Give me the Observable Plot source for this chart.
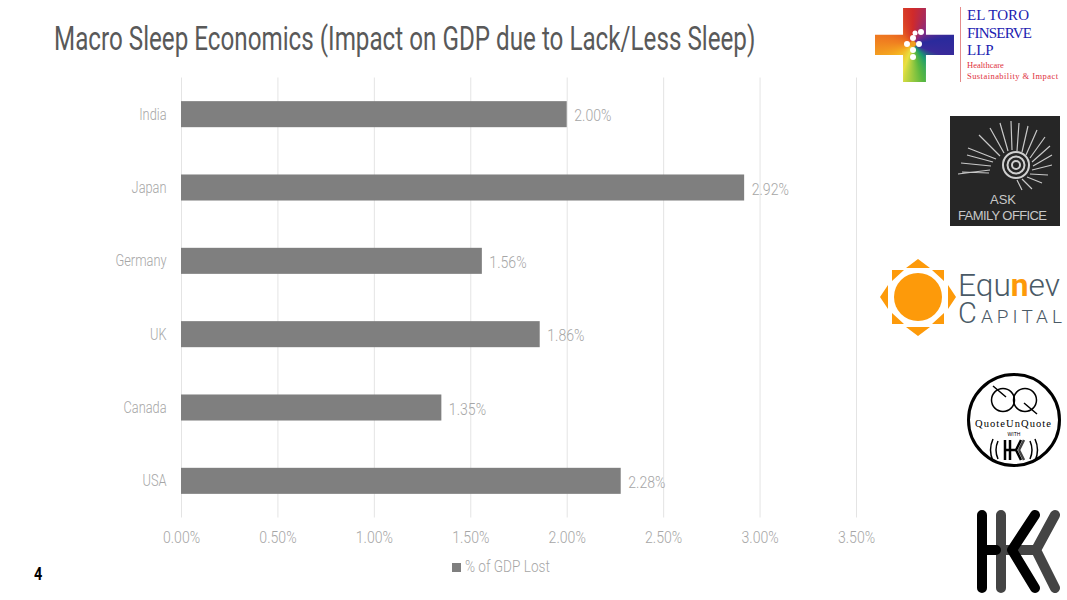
<!DOCTYPE html>
<html><head><meta charset="utf-8">
<script src="https://cdn.jsdelivr.net/npm/d3@7"></script>
<script src="https://cdn.jsdelivr.net/npm/@observablehq/plot@0.6"></script>
<style>
html,body{margin:0;padding:0;background:#fff}
#page{position:relative;width:1067px;height:600px;overflow:hidden;font-family:"Roboto",sans-serif;font-weight:300}
#chart{position:absolute;left:0;top:0}
#chart svg{display:block}
#title{position:absolute;left:54px;top:17px;font-size:34px;line-height:42px;font-weight:400;color:#595959;white-space:nowrap;transform-origin:0 0;transform:scaleX(.712)}
#swatch{position:absolute;left:452px;top:563px;width:9px;height:9px;background:#7f7f7f}
#legend{position:absolute;left:465px;top:557px;font-size:16px;line-height:20px;color:#a6a6a6;white-space:nowrap;transform-origin:0 0;transform:scaleX(.85)}
#num{position:absolute;left:34px;top:564px;font-size:18px;line-height:20px;font-weight:bold;color:#000;transform-origin:0 0;transform:scaleX(.8)}
#cross{position:absolute;left:875px;top:8px;width:79px;height:74px;background:conic-gradient(from 0deg at 48% 49%,#d02a2a,#8a2a80 40deg,#2a2a9c 80deg,#3a2a9a 110deg,#1a9a70 140deg,#5ab840 165deg,#e8e040 200deg,#f5b020 240deg,#f08020 275deg,#e86020 310deg,#d02a2a);clip-path:polygon(35.5% 0,64.5% 0,64.5% 36%,100% 36%,100% 63.5%,64.5% 63.5%,64.5% 100%,35.5% 100%,35.5% 63.5%,0 63.5%,0 36%,35.5% 36%)}
#logos{position:absolute;left:0;top:0}
</style></head><body>
<div id="page">
<div id="chart"></div>
<div id="title">Macro Sleep Economics (Impact on GDP due to Lack/Less Sleep)</div>
<div id="swatch"></div>
<div id="legend">% of GDP Lost</div>
<div id="num">4</div>
<div id="cross"></div>
<svg id="logos" width="1067" height="600" viewBox="0 0 1067 600">
  <g fill="#fff"><circle cx="921" cy="32" r="3"/><circle cx="913" cy="38" r="3"/><circle cx="907" cy="44" r="3"/><circle cx="919" cy="44" r="3"/><circle cx="913" cy="50" r="3"/><circle cx="913" cy="57" r="3"/><circle cx="915" cy="33" r="2.5"/></g>
  <circle cx="913" cy="44" r="3" fill="#f0a020"/>
  <line x1="960.5" y1="7" x2="960.5" y2="82" stroke="#e58a8a" stroke-width="1"/>
  <g font-family="'Liberation Serif',serif" fill="#2020b0" font-size="15" font-weight="400">
    <text x="967" y="20" textLength="62">EL TORO</text><text x="967" y="38" textLength="65">FINSERVE</text><text x="967" y="55">LLP</text>
  </g>
  <g font-family="'Liberation Serif',serif" fill="#e03040" font-size="8.5" font-weight="400">
    <text x="967" y="68">Healthcare</text><text x="967" y="78.5" textLength="91">Sustainability &amp; Impact</text>
  </g>
  <rect x="950" y="116" width="110" height="110" fill="#262626"/>
  <g stroke="#c8c8c8" stroke-width="1.2" fill="none">
    <path d="M1012 150L1011 121M1017 151L1019 123M1022 152L1028 126M1026 155L1037 130M1030 158L1045 137M1032 162L1050 146M1033 166L1052 155M1032 170L1052 165M1030 174L1048 175M1027 177L1042 183M1022 179L1032 189M1017 180L1022 190M1008 151L1000 123M1004 153L990 128M1000 156L979 135M996 159L968 148M993 162L967 155M991 166L961 163M990 170L958 174M989 173L962 172"/>
  </g>
  <g fill="none" stroke="#d0d0d0"><circle cx="1016" cy="165" r="13" stroke-width="2"/><circle cx="1016" cy="165" r="8.5" stroke-width="2"/><circle cx="1016" cy="165" r="4" stroke-width="2"/></g>
  <text x="1003" y="204" text-anchor="middle" font-size="13" fill="#c8c8c8" font-family="'Liberation Sans',sans-serif" font-weight="400">ASK</text>
  <text x="958" y="220" font-size="13" fill="#c8c8c8" font-family="'Liberation Sans',sans-serif" font-weight="400" textLength="89">FAMILY OFFICE</text>
  <circle cx="918" cy="297" r="24" fill="#fd9a0a"/>
  <g fill="#fd9a0a">
    <path d="M918 259L906 268H930ZM918 336L906 327H930ZM880 297L888 285V309ZM956 297L948 285V309Z"/>
    <path d="M892 270H904L892 281ZM944 270H932L944 281ZM892 324H904L892 313ZM944 324H932L944 313Z"/>
  </g>
  <text x="958" y="296" font-family="Roboto,sans-serif" font-weight="300" font-size="31" fill="#4a5a66" textLength="102" lengthAdjust="spacingAndGlyphs">Equ<tspan fill="#fd9a0a" font-weight="700">n</tspan>ev</text>
  <text x="958" y="323" font-family="Roboto,sans-serif" font-weight="300" font-size="19" fill="#4a5a66" textLength="104"><tspan font-size="29">C</tspan>APITAL</text>
  <circle cx="1014" cy="420" r="45.5" fill="#fff" stroke="#000" stroke-width="3"/>
  <g fill="none" stroke="#000" stroke-width="1.5">
    <circle cx="1003" cy="400" r="11.5"/><circle cx="1025" cy="400" r="11.5"/>
    <path d="M993 386L1006 397M1024 403L1037 414"/>
    <path d="M998 441Q994 450 998 459M993 439Q988 450 993 461M1030 441Q1034 450 1030 459M1035 439Q1040 450 1035 461"/>
  </g>
  <text x="975" y="427" textLength="76" font-family="'Liberation Serif',serif" font-size="10.5" font-weight="400" fill="#000">QuoteUnQuote</text>
  <text x="1014" y="436" text-anchor="middle" font-family="'Liberation Sans',sans-serif" font-size="5" font-weight="400" fill="#000">WITH</text>
  <g stroke-width="2.5" stroke="#000" fill="none"><path d="M1005 440V460M1010 440V460M1005 450H1016M1016 450L1021 440M1016 450L1021 460"/><path stroke="#444" d="M1019 450L1024 440M1019 450L1024 460"/></g>
  <g fill="none" stroke-linecap="round" stroke-width="10">
    <path stroke="#444" d="M1001 515V588M1001 550H1036M1036 550L1055 515M1036 550L1055 588"/>
    <path stroke="#000" d="M982 515V588M982 550H996M1012 550L1035 515M1012 550L1035 588"/>
  </g>
</svg>
</div>
<script>
const countries = ["India", "Japan", "Germany", "UK", "Canada", "USA"];
const lost = [2.00, 2.92, 1.56, 1.86, 1.35, 2.28];
const xTicks = [0, 0.5, 1, 1.5, 2, 2.5, 3, 3.5];
const rows = countries.map((country, i) => ({country, lost: lost[i]}));
const pct = v => v.toFixed(2) + "%";
const plot = Plot.plot({
  width: 1067, height: 600,
  marginLeft: 181, marginRight: 211, marginTop: 77.5, marginBottom: 82.5,
  style: {fontFamily: 'Roboto,sans-serif', fontWeight: 300, background: "#fff"},
  x: {domain: [0, 3.5]},
  y: {domain: countries, paddingInner: 0.645, paddingOuter: 0.3225, round: false},
  marks: [
    Plot.gridX(xTicks, {stroke: "#e4e4e4", strokeOpacity: 1, strokeWidth: 1}),
    Plot.axisX({ticks: xTicks, tickSize: 0, tickPadding: 14, tickFormat: pct, label: null, fontSize: 16, fill: "#a6a6a6", className: "narrow-num"}),
    Plot.axisY({tickSize: 0, tickPadding: 15, label: null, fontSize: 16, fill: "#a6a6a6", className: "narrow-cat"}),
    Plot.barX(rows, {x: "lost", y: "country", fill: "#7f7f7f"}),
    Plot.text(rows, {x: "lost", y: "country", text: d => pct(d.lost), dx: 7, dy: 1.5, textAnchor: "start", fontSize: 16, fill: "#a6a6a6", className: "narrow-num"})
  ]
});
document.getElementById("chart").append(plot);
// The reference typeface is condensed: narrow the chart's texts to match it.
const squeeze = (selector, factor) => plot.querySelectorAll(selector).forEach(t => {
  t.setAttribute("textLength", t.getComputedTextLength() * factor);
  t.setAttribute("lengthAdjust", "spacingAndGlyphs");
});
squeeze(".narrow-num text", 0.88);
squeeze(".narrow-cat text", 0.8);
</script>
</body></html>
